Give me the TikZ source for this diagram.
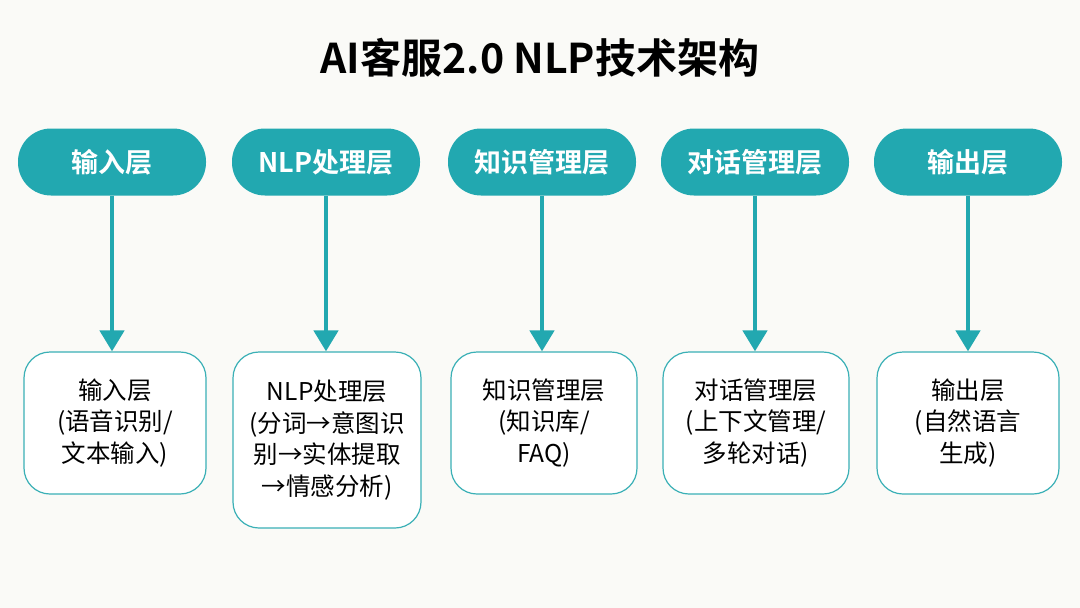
\documentclass[tikz,border=0pt]{standalone}
\usepackage{fontspec}
\setmainfont{Noto Sans CJK SC}
\newfontfamily\cjkbold{Noto Sans CJK SC Bold}
\usetikzlibrary{arrows.meta}
\definecolor{bgc}{HTML}{FAFAF7}
\definecolor{teal}{HTML}{22A8B0}
\definecolor{tealline}{HTML}{3AB0B6}
\tikzset{
  x=1pt,y=-1pt,
  pill/.style={draw=none,fill=teal,rounded corners=33pt,minimum width=188pt,minimum height=67pt,text=white,font=\cjkbold\fontsize{27}{32}\selectfont,inner sep=0pt},
  detail/.style={draw=tealline,line width=1.2pt,fill=white,rounded corners=26pt,minimum width=182pt,align=center,font=\fontsize{24.5}{31.5}\selectfont,inner sep=0pt},
  flow/.style={draw=teal,line width=4.5pt,-{Triangle[width=24pt,length=21pt]}},
}
\begin{document}
\begin{tikzpicture}
\fill[bgc] (0,0) rectangle (1080,608);
\useasboundingbox (0,0) rectangle (1080,608);
\node[font=\cjkbold\fontsize{41}{48}\selectfont] (title) at (540,58) {AI客服2.0 NLP技术架构};
\node[pill] (p1) at (112,162) {输入层};
\node[pill] (p2) at (326,162) {NLP处理层};
\node[pill] (p3) at (542,162) {知识管理层};
\node[pill] (p4) at (755,162) {对话管理层};
\node[pill] (p5) at (968,162) {输出层};
\node[detail,minimum height=142pt] (b1) at (115,423) {输入层\\(语音识别/\\文本输入)};
\node[detail,minimum height=176pt,minimum width=188pt] (b2) at (327,440) {NLP处理层\\(分词→意图识\\别→实体提取\\→情感分析)};
\node[detail,minimum height=142pt,minimum width=186pt] (b3) at (544,423) {知识管理层\\(知识库/\\FAQ)};
\node[detail,minimum height=142pt,minimum width=186pt] (b4) at (756,423) {对话管理层\\(上下文管理/\\多轮对话)};
\node[detail,minimum height=142pt] (b5) at (968,423) {输出层\\(自然语言\\生成)};
\foreach \i in {1,...,5}{
  \draw[flow] (p\i.south) -- (p\i.south |- b\i.north);
}
\end{tikzpicture}
\end{document}
